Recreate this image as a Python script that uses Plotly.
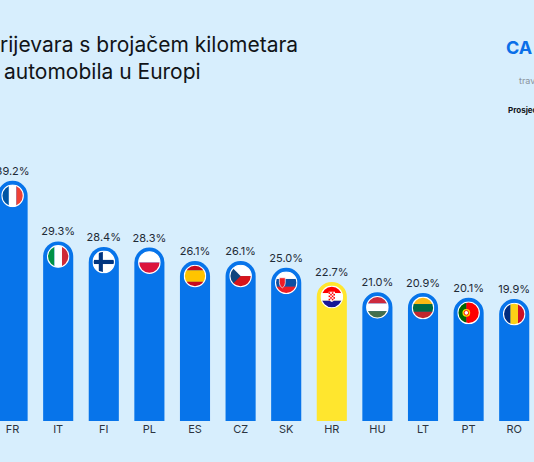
import base64
import plotly.graph_objects as go

# Data
countries = ['FR', 'IT', 'FI', 'PL', 'ES', 'CZ', 'SK', 'HR', 'HU', 'LT', 'PT', 'RO']
shares = [39.2, 29.3, 28.4, 28.3, 26.1, 26.1, 25.0, 22.7, 21.0, 20.9, 20.1, 19.9]
highlight = 'HR'

BG = '#d7eefd'
BLUE = '#0774ea'
YELLOW = '#ffe62e'


def stripes(colors, vertical=False, weights=None):
    weights = weights or [1] * len(colors)
    tot = sum(weights)
    out, pos = '', 0.0
    for c, w in zip(colors, weights):
        size = 100 * w / tot
        if vertical:
            out += f'<rect x="{pos}" y="0" width="{size + 0.3}" height="100" fill="{c}"/>'
        else:
            out += f'<rect x="0" y="{pos}" width="100" height="{size + 0.3}" fill="{c}"/>'
        pos += size
    return out


flag_art = {
    'FR': stripes(['#0055a4', '#ffffff', '#ef4135'], vertical=True),
    'IT': stripes(['#009246', '#ffffff', '#ce2b37'], vertical=True),
    'FI': '<rect width="100" height="100" fill="#ffffff"/>'
          '<rect x="28" y="0" width="18" height="100" fill="#003580"/>'
          '<rect x="0" y="41" width="100" height="18" fill="#003580"/>',
    'PL': stripes(['#ffffff', '#dc143c']),
    'ES': stripes(['#c60b1e', '#ffc400', '#c60b1e'], weights=[1, 2, 1]),
    'CZ': stripes(['#ffffff', '#d7141a'])
          + '<polygon points="0,0 50,50 0,100" fill="#11457e"/>',
    'SK': stripes(['#ffffff', '#0b4ea2', '#ee1c25'])
          + '<path d="M20,28 h26 v22 q0,16 -13,22 q-13,-6 -13,-22 z" fill="#ee1c25" stroke="#fff" stroke-width="3"/>',
    'HR': stripes(['#ff0000', '#ffffff', '#171796'])
          + '<path d="M36,28 h28 v22 q0,16 -14,22 q-14,-6 -14,-22 z" fill="#ffffff"/>'
          + ''.join(f'<rect x="{36 + 7 * c}" y="{30 + 7 * r}" width="7" height="7" fill="#ff0000"/>'
                    for r in range(5) for c in range(4) if (r + c) % 2 == 0),
    'HU': stripes(['#cd2a3e', '#ffffff', '#436f4d']),
    'LT': stripes(['#fdb913', '#006a44', '#c1272d']),
    'PT': stripes(['#006600', '#ff0000'], vertical=True, weights=[2, 3])
          + '<circle cx="40" cy="50" r="17" fill="#ffe000"/><circle cx="40" cy="50" r="10" fill="#ffffff" stroke="#ff0000" stroke-width="4"/>',
    'RO': stripes(['#002b7f', '#fcd116', '#ce1126'], vertical=True),
}


def flag_uri(code):
    svg = ('<svg xmlns="http://www.w3.org/2000/svg" viewBox="0 0 100 100">'
           '<defs><clipPath id="c"><circle cx="50" cy="50" r="47"/></clipPath></defs>'
           f'<g clip-path="url(#c)">{flag_art[code]}</g>'
           '<circle cx="50" cy="50" r="47" fill="none" stroke="#ffffff" stroke-width="5"/>'
           '</svg>')
    return 'data:image/svg+xml;base64,' + base64.b64encode(svg.encode()).decode()


xs = list(range(len(countries)))
colors = [YELLOW if c == highlight else BLUE for c in countries]

fig = go.Figure(go.Bar(
    x=xs, y=shares, width=0.66,
    marker=dict(color=colors, cornerradius='50%', line_width=0),
    text=[f'{v:.1f}%' for v in shares],
    textposition='outside', constraintext='none',
    textfont=dict(family='Inter', size=11, color='#1e2a36'),
    cliponaxis=False,
))

# round flags sitting in the rounded bar tops
px_per_unit = 421 / 68.7
for i, (c, v) in enumerate(zip(countries, shares)):
    fig.add_layout_image(
        source=flag_uri(c), xref='x', yref='y',
        x=i, y=v - 15 / px_per_unit,
        sizex=0.5, sizey=23 / px_per_unit,
        xanchor='center', yanchor='middle', sizing='stretch', layer='above',
    )

title_font = dict(family='Inter', size=21, color='#111418')
fig.add_annotation(text='rijevara s brojačem kilometara', xref='paper', yref='paper',
                   x=-0.004, y=1 - 44 / 421, xanchor='left', yanchor='middle',
                   showarrow=False, font=title_font)
fig.add_annotation(text='automobila u Europi', xref='paper', yref='paper',
                   x=0.003, y=1 - 71 / 421, xanchor='left', yanchor='middle',
                   showarrow=False, font=title_font)
fig.add_annotation(text='<b>CA</b>', xref='paper', yref='paper',
                   x=504 / 534, y=1 - 47 / 421, xanchor='left', yanchor='middle',
                   showarrow=False, font=dict(family='Inter', size=18, color='#0a6fe8'))
fig.add_annotation(text='trav', xref='paper', yref='paper',
                   x=517 / 534, y=1 - 81 / 421, xanchor='left', yanchor='middle',
                   showarrow=False, font=dict(family='Inter', size=9, color='#8a949e'))
fig.add_annotation(text='<b>Prosjec</b>', xref='paper', yref='paper',
                   x=506 / 534, y=1 - 110 / 421, xanchor='left', yanchor='middle',
                   showarrow=False, font=dict(family='Inter', size=8, color='#111418'))

fig.update_layout(
    width=534, height=462,
    margin=dict(l=0, r=0, t=0, b=41),
    paper_bgcolor=BG, plot_bgcolor=BG,
    showlegend=False,
    xaxis=dict(range=[-0.276, 11.434], tickvals=xs, ticktext=countries,
               showgrid=False, zeroline=False, showline=False, ticks='',
               tickfont=dict(family='Inter', size=11, color='#2b3440')),
    yaxis=dict(range=[0, 68.7], visible=False),
)

fig.write_html('out.html', config={'displayModeBar': False},
               post_script="document.body.style.margin='0';"
               "document.body.style.overflow='hidden';")
